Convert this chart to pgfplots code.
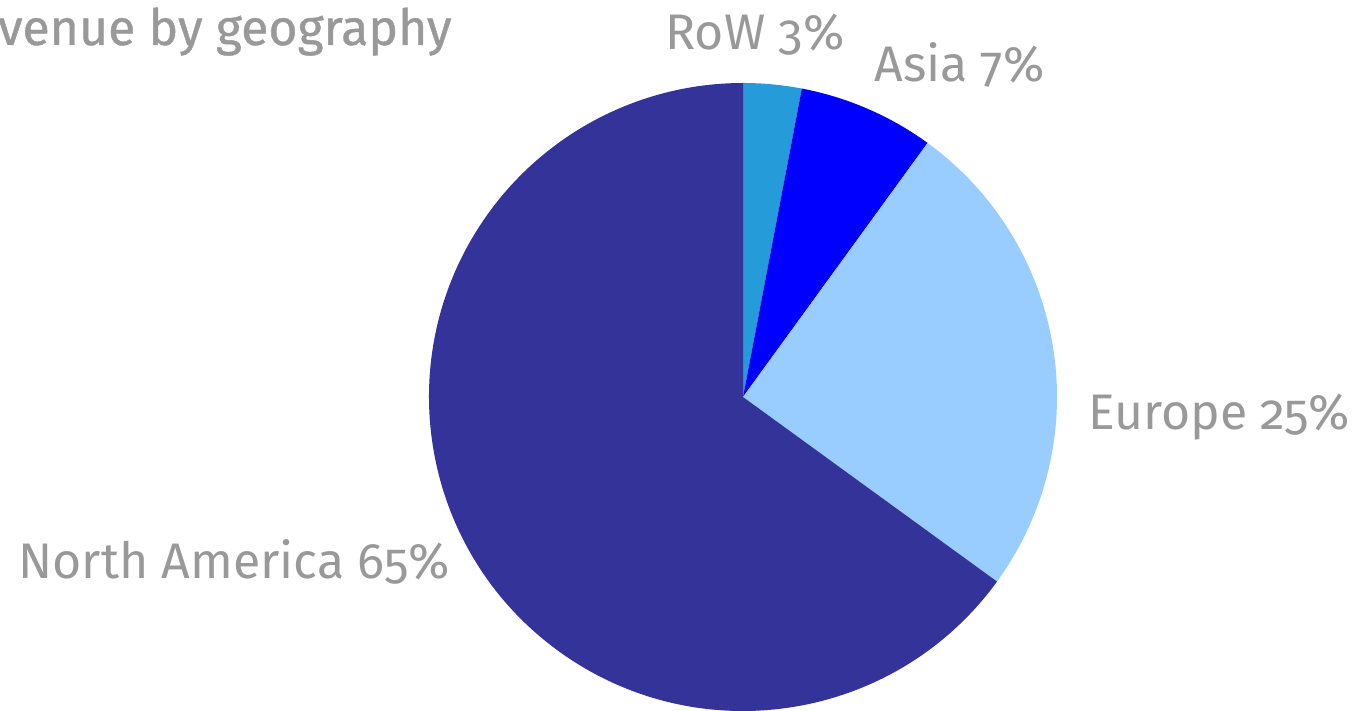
\documentclass[border=0pt]{standalone}
\usepackage{pgfplots}
\usepackage{pgfplotstable}
\pgfplotsset{compat=1.18}
\usepackage{fontspec}
\setmainfont{Fira Sans}[Numbers=OldStyle]
\newfontfamily\titlefont{Fira Sans}[FakeBold=0.8]
\definecolor{rowc}{HTML}{259BD9}
\definecolor{asiac}{HTML}{0000FF}
\definecolor{euc}{HTML}{99CCFF}
\definecolor{nac}{HTML}{333399}
\definecolor{txt}{HTML}{999999}

\pgfplotstableread{
label value color
RoW 3 rowc
Asia 7 asiac
Europe 25 euc
NorthAmerica 65 nac
}\piedata

\begin{document}
\begin{tikzpicture}
\begin{axis}[name=ax, hide axis, scale only axis, x=0.5pt, y=0.5pt,
  xmin=0, xmax=1364, ymin=0, ymax=711, clip=false]
\pgfplotsextra{
  \pgfplotstablegetrowsof{\piedata}
  \pgfmathtruncatemacro\N{\pgfplotsretval-1}
  \xdef\cum{0}
  \foreach \i in {0,...,\N}{
    \pgfplotstablegetelem{\i}{value}\of\piedata \let\v\pgfplotsretval
    \pgfplotstablegetelem{\i}{color}\of\piedata \let\c\pgfplotsretval
    \pgfmathsetmacro\sa{90-3.6*\cum}
    \pgfmathsetmacro\ea{90-3.6*(\cum+\v)}
    \fill[fill=\c] (axis cs:743,314) -- ++(\sa:157pt) arc[start angle=\sa, end angle=\ea, radius=157pt] -- cycle;
    \pgfmathsetmacro\newcum{\cum+\v}
    \xdef\cum{\newcum}
  }
}
\node[anchor=base east, text=txt, font=\titlefont\fontsize{25}{30}\selectfont, inner sep=0pt] at (axis cs:452,666) {Revenue by geography};
\node[anchor=base west, text=txt, font=\fontsize{25}{30}\selectfont, inner sep=0pt] at (axis cs:665,661) {RoW 3\%};
\node[anchor=base west, text=txt, font=\fontsize{25}{30}\selectfont, inner sep=0pt] at (axis cs:874,629) {Asia 7\%};
\node[anchor=base west, text=txt, font=\fontsize{25}{30}\selectfont, inner sep=0pt] at (axis cs:1088,281) {Europe 25\%};
\node[anchor=base west, text=txt, font=\fontsize{25}{30}\selectfont, inner sep=0pt] at (axis cs:18,132) {North America 65\%};
\end{axis}
\pgfresetboundingbox
\useasboundingbox (ax.south west) rectangle (ax.north east);
\end{tikzpicture}
\end{document}
